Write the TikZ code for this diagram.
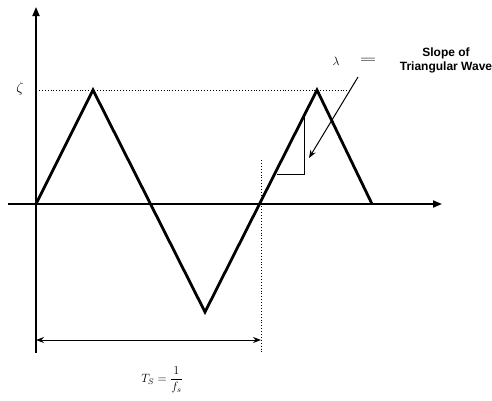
\documentclass[tikz,border=0pt]{standalone}
\usepackage{fontspec}
\usepackage{graphicx}
\newfontfamily\labelsans{Liberation Sans}
\usetikzlibrary{arrows.meta}
\begin{document}
\begin{tikzpicture}[x=1pt,y=-1pt,
  axis/.style={line width=1.8pt,-{Triangle[length=9pt,width=7pt]}},
  wave/.style={line width=2.8pt,line join=miter},
  guide/.style={line width=0.9pt,dotted},
  thin/.style={line width=1pt},
  dim/.style={line width=1pt,{Stealth[length=8pt,width=6pt]}-{Stealth[length=8pt,width=6pt]}},
  lbl/.style={inner sep=0pt}]
\useasboundingbox (0,0) rectangle (492,400);
% coordinates
\coordinate (o) at (36,204);
\coordinate (ybot) at (36,353);
\coordinate (ytop) at (36,7);
\coordinate (xl) at (8,204);
\coordinate (xr) at (442,204);
\coordinate (p1) at (93,90);
\coordinate (v1) at (205,312);
\coordinate (z1) at (260,204);
\coordinate (p2) at (317,90);
\coordinate (e2) at (372,204);
\coordinate (dl) at (36,90);
\coordinate (dr) at (352,90);
\coordinate (vt) at (261,160);
\coordinate (vb) at (261,354);
\coordinate (ta) at (277,174);
\coordinate (tb) at (304,174);
\coordinate (tc) at (304,116);
\coordinate (as) at (358,77);
\coordinate (ae) at (309,158);
\coordinate (da) at (36,340);
\coordinate (db) at (261,340);
% axes
\draw[axis] (ybot) -- (ytop);
\draw[axis] (xl) -- (xr);
% guides
\draw[guide] (dl) -- (dr);
\draw[guide] (vt) -- (vb);
% wave
\draw[wave] (o) -- (p1) -- (v1) -- (p2) -- (e2);
% slope triangle
\draw[thin] (ta) -- (tb) -- (tc);
\draw[thin,-{Stealth[length=8pt,width=6pt]}] (as) -- (ae);
% dimension
\draw[dim] (da) -- (db);
% labels
\node[lbl,font=\Large] (zeta) at (20,89) {$\zeta$};
\node[lbl,font=\large] (lam) at (336,61) {$\lambda$};
\node[lbl,font=\Large] (eq) at (368,61) {\scalebox{1.5}[1]{$=$}};
\node[lbl,font=\labelsans\large\bfseries,align=center] (slope) at (446,60) {Slope of\\Triangular Wave};
\node[lbl,font=\large] (ts) at (162,380) {$T_S = \displaystyle\frac{1}{f_s}$};
\end{tikzpicture}
\end{document}
